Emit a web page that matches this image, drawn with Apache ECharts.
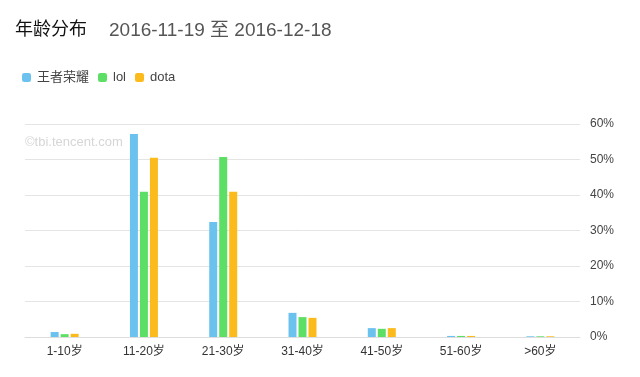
<!DOCTYPE html>
<html>
<head>
<meta charset="utf-8">
<script src="https://cdn.jsdelivr.net/npm/echarts@6/dist/echarts.min.js"></script>
<style>
  html, body { margin: 0; padding: 0; background: #fff; }
  #chart { width: 640px; height: 377px; }
</style>
</head>
<body>
<div id="chart"></div>
<script>
const categories = ['1-10岁', '11-20岁', '21-30岁', '31-40岁', '41-50岁', '51-60岁', '>60岁']
const seriesNames = ['王者荣耀', 'lol', 'dota']
const wzry = [1.4, 57.2, 32.4, 6.8, 2.5, 0.3, 0.2]
const lol = [0.8, 40.9, 50.7, 5.6, 2.3, 0.3, 0.2]
const dota = [0.9, 50.5, 40.9, 5.4, 2.5, 0.3, 0.2]
const colors = ['#6cc2ef', '#5ddf66', '#fcbb1c']

const myChart = echarts.init(document.getElementById('chart'))
const font = '"Liberation Sans", "Noto Sans CJK SC", sans-serif'

const option = {
  animation: false,
  color: colors,
  title: {
    left: 10,
    top: 16,
    text: '{a|年龄分布}{b|2016-11-19 至 2016-12-18}',
    textStyle: {
      fontWeight: 'normal',
      rich: {
        a: { fontSize: 18, color: '#111', fontFamily: font, padding: [0, 22, 0, 0] },
        b: { fontSize: 19, color: '#555', fontFamily: font }
      }
    }
  },
  legend: {
    left: 17,
    top: 66,
    itemWidth: 9,
    itemHeight: 9,
    itemGap: 9,
    icon: 'roundRect',
    data: seriesNames,
    textStyle: { fontSize: 13, color: '#444', fontFamily: font, padding: [0, 0, 0, 1] }
  },
  graphic: [
    {
      type: 'text',
      left: 25,
      top: 136,
      style: { text: '©tbi.tencent.com', fill: '#d6d6d6', font: '13px "Liberation Sans", sans-serif' }
    }
  ],
  grid: { left: 25, right: 60, top: 124, bottom: 40 },
  xAxis: {
    type: 'category',
    data: categories,
    axisLine: { lineStyle: { color: '#ddd' } },
    axisTick: { show: false },
    axisLabel: { color: '#333', fontSize: 12, margin: 9, fontFamily: font }
  },
  yAxis: {
    type: 'value',
    position: 'right',
    min: 0,
    max: 60,
    interval: 10,
    axisLine: { show: false },
    axisTick: { show: false },
    axisLabel: { color: '#444', fontSize: 12, margin: 10, formatter: '{value}%', fontFamily: font },
    splitLine: { lineStyle: { color: '#e4e4e4' } }
  },
  series: [
    { name: seriesNames[0], type: 'bar', data: wzry, barWidth: 8, barGap: '25%' },
    { name: seriesNames[1], type: 'bar', data: lol, barWidth: 8, barGap: '25%' },
    { name: seriesNames[2], type: 'bar', data: dota, barWidth: 8, barGap: '25%' }
  ]
}
myChart.setOption(option)
</script>
</body>
</html>
